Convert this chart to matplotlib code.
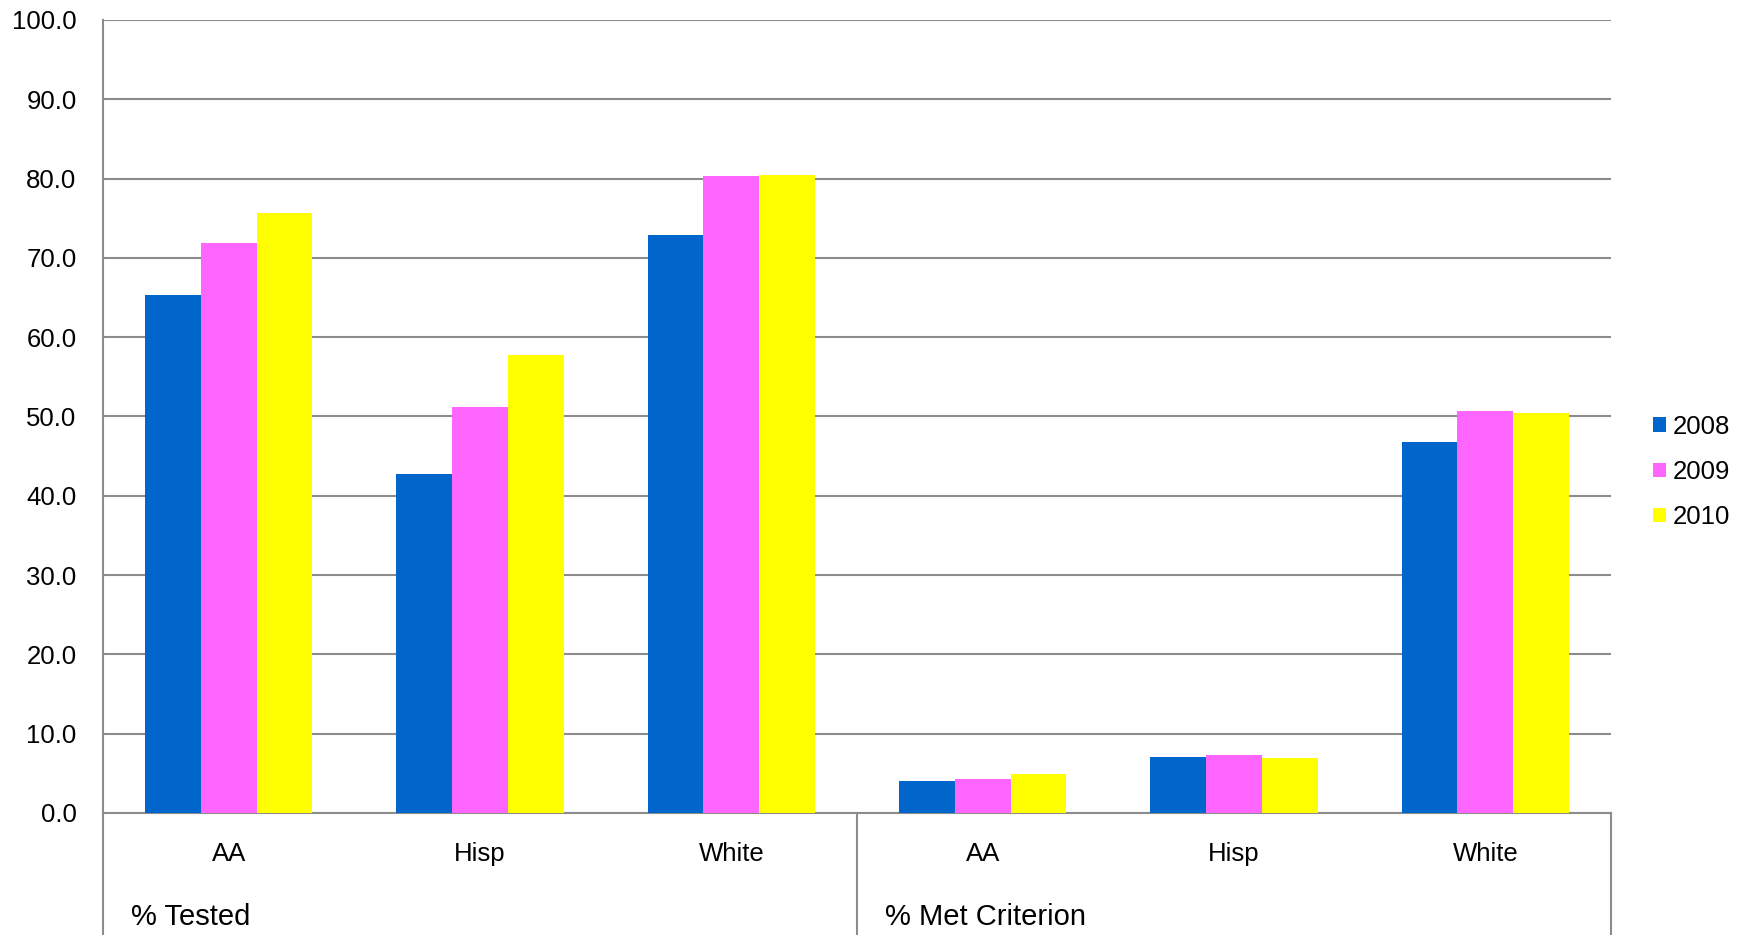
"""
Grouped bar chart: % Tested and % Met Criterion by group, 2008-2010.
"""

import numpy as np
import matplotlib
matplotlib.use("Agg")
import matplotlib.pyplot as plt
from matplotlib.lines import Line2D
from matplotlib.patches import Patch

# data
groups = ["% Tested", "% Met Criterion"]
categories = ["AA", "Hisp", "White", "AA", "Hisp", "White"]
years = ["2008", "2009", "2010"]
vals_2008 = [65.3, 42.7, 72.9, 4.0, 7.1, 46.8]
vals_2009 = [71.9, 51.2, 80.3, 4.3, 7.3, 50.7]
vals_2010 = [75.6, 57.7, 80.5, 4.9, 6.9, 50.4]
colors = ["#0066CC", "#FF66FF", "#FFFF00"]

GRID = "#8C8C8C"
FS = 18.5


def main():
    plt.rcParams["font.family"] = ["Liberation Sans", "DejaVu Sans"]
    plt.rcParams["font.size"] = FS

    fig = plt.figure(figsize=(17.46, 9.35), dpi=100)
    ax = fig.add_axes([103 / 1746, 1 - 813 / 935, 1508 / 1746, 793 / 935])

    x = np.arange(len(categories))
    width = 1 / 4.5
    for i, (vals, col) in enumerate(zip([vals_2008, vals_2009, vals_2010], colors)):
        ax.bar(x + (i - 1) * width, vals, width, color=col, zorder=3,
               linewidth=0)

    ax.set_xlim(-0.5, len(categories) - 0.5)
    ax.set_ylim(0, 100)
    ax.set_yticks(np.arange(0, 101, 10))
    ax.set_yticklabels([f"{v:.1f}" for v in np.arange(0, 101, 10)])
    ax.yaxis.grid(True, color=GRID, linewidth=1.5, zorder=0)
    ax.tick_params(axis="y", length=0, pad=19, labelsize=FS)
    ax.set_xticks([])

    for side in ["top", "right"]:
        ax.spines[side].set_visible(False)
    for side in ["left", "bottom"]:
        ax.spines[side].set_color(GRID)
        ax.spines[side].set_linewidth(1.5)

    # multi-level category axis below the plot
    trans = ax.get_xaxis_transform()
    depth = -122 / 793
    for xpos in [-0.5, 2.5, 5.5]:
        ax.add_line(Line2D([xpos, xpos], [0, depth], transform=trans,
                           color=GRID, linewidth=1.5, clip_on=False))
    for xi, cat in zip(x, categories):
        ax.text(xi, -41 / 793, cat, transform=trans, ha="center",
                va="center", fontsize=FS)
    for gi, name in enumerate(groups):
        ax.text(-0.5 + 3 * gi + 0.11, -104 / 793, name, transform=trans,
                ha="left", va="center", fontsize=21)

    handles = [Patch(facecolor=c, edgecolor="none") for c in colors]
    fig.legend(handles, years, loc="center left",
               bbox_to_anchor=(1653 / 1746, 1 - 472 / 935), frameon=False,
               handlelength=0.5, handleheight=0.5, handletextpad=0.27,
               labelspacing=0.82, borderpad=0, borderaxespad=0, fontsize=FS)

    fig.savefig("out.png", dpi=100)


if __name__ == "__main__":
    main()
